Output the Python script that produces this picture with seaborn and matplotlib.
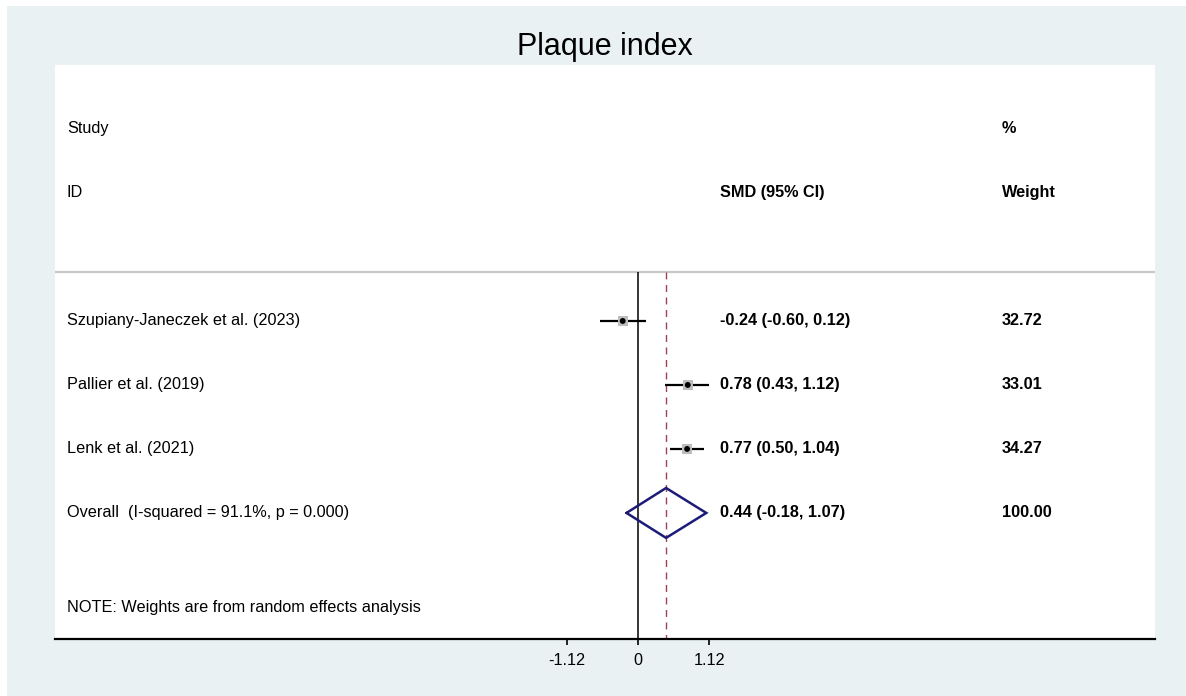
import numpy as np
import pandas as pd
import matplotlib
matplotlib.use("Agg")
import matplotlib.pyplot as plt
import matplotlib.transforms as mtransforms
from matplotlib.patches import Rectangle
import seaborn as sns

# DATA
studies   = ["Szupiany-Janeczek et al. (2023)", "Pallier et al. (2019)", "Lenk et al. (2021)"]
smd       = [-0.24, 0.78, 0.77]
ci_low    = [-0.60, 0.43, 0.50]
ci_high   = [0.12, 1.12, 1.04]
weights   = [32.72, 33.01, 34.27]
overall   = {"label": "Overall  (I-squared = 91.1%, p = 0.000)",
             "smd": 0.44, "lo": -0.18, "hi": 1.07, "weight": 100.00}
tick_vals = [-1.12, 0, 1.12]
tick_text = ["-1.12", "0", "1.12"]

BG = "#e9f1f3"
FONT = "Liberation Sans"
FS = 11.7

sns.set_theme(style="white")
plt.rcParams['font.family'] = [FONT, 'DejaVu Sans']

df = pd.DataFrame({"study": studies, "smd": smd, "lo": ci_low,
                   "hi": ci_high, "weight": weights})
df["row"] = np.arange(len(df)) + 3

fig = plt.figure(figsize=(11.86, 6.96), dpi=100)
fig.patch.set_facecolor("white")
W, H = 1186, 696
fig.patches.append(Rectangle((7 / W, 0), 1 - 7 / W, 1 - 6 / H,
                             transform=fig.transFigure, facecolor=BG,
                             edgecolor="none", zorder=-10))

ax = fig.add_axes([55 / W, (H - 639) / H, 1100 / W, (639 - 65) / H])
ax.set_facecolor("white")
px = 63.8
ax.set_xlim((55 - 638) / px, (1155 - 638) / px)
ax.set_ylim(7.97, -1.0)

line_y = 2.23
ax.axhline(line_y, color="#c8c8c8", lw=1.6, zorder=1)

# null line and overall line
ax.vlines(0, line_y, 7.97, color="black", lw=1.1, zorder=2)
ax.vlines(overall["smd"], line_y, 7.97, color="#9c4456", lw=1.0,
          linestyles=(0, (5, 4)), zorder=2)

# CIs and points
ax.hlines(df["row"], df["lo"], df["hi"], color="black", lw=1.6, zorder=3)
sns.scatterplot(data=df, x="smd", y="row", marker="s", s=50, color="#bdbdbd",
                edgecolor="none", ax=ax, zorder=4, legend=False)
sns.scatterplot(data=df, x="smd", y="row", marker="o", s=18, color="black",
                edgecolor="none", ax=ax, zorder=5, legend=False)

# overall diamond
oy = 6
dx = [overall["lo"], overall["smd"], overall["hi"], overall["smd"], overall["lo"]]
dy = [oy, oy - 0.39, oy, oy + 0.39, oy]
ax.plot(dx, dy, color="#1c1c78", lw=1.8, zorder=5, solid_joinstyle="miter")

# text columns
trans = mtransforms.blended_transform_factory(ax.transAxes, ax.transData)
xl, xm, xr = (67 - 55) / 1100, (720 - 55) / 1100, (1002 - 55) / 1100
kw = dict(transform=trans, va="center", ha="left", fontsize=FS, color="black")
ax.text(xl, 0, "Study", **kw)
ax.text(xl, 1, "ID", **kw)
ax.text(xm, 1, "SMD (95% CI)", fontweight="bold", **kw)
ax.text(xr, 0, "%", fontweight="bold", **kw)
ax.text(xr, 1, "Weight", fontweight="bold", **kw)
for _, r in df.iterrows():
    ax.text(xl, r["row"], r["study"], **kw)
    ax.text(xm, r["row"], f"{r['smd']:.2f} ({r['lo']:.2f}, {r['hi']:.2f})",
            fontweight="bold", **kw)
    ax.text(xr, r["row"], f"{r['weight']:.2f}", fontweight="bold", **kw)
ax.text(xl, oy, overall["label"], **kw)
ax.text(xm, oy, f"{overall['smd']:.2f} ({overall['lo']:.2f}, {overall['hi']:.2f})",
        fontweight="bold", **kw)
ax.text(xr, oy, f"{overall['weight']:.2f}", fontweight="bold", **kw)
ax.text(xl, 7.47, "NOTE: Weights are from random effects analysis", **kw)

# axes styling
for s in ["top", "left", "right"]:
    ax.spines[s].set_visible(False)
ax.spines["bottom"].set_color("black")
ax.spines["bottom"].set_linewidth(1.6)
ax.set_yticks([])
ax.set_xticks(tick_vals)
ax.set_xticklabels(tick_text)
ax.tick_params(axis="x", direction="out", length=4, width=1.2, color="black",
               labelsize=FS, labelcolor="black", pad=6, bottom=True)
ax.set_xlabel("")
ax.set_ylabel("")

fig.text(605 / W, 1 - 47 / H, "Plaque index", ha="center", va="center",
         fontsize=22, color="black")

fig.savefig("out.png", dpi=100)
